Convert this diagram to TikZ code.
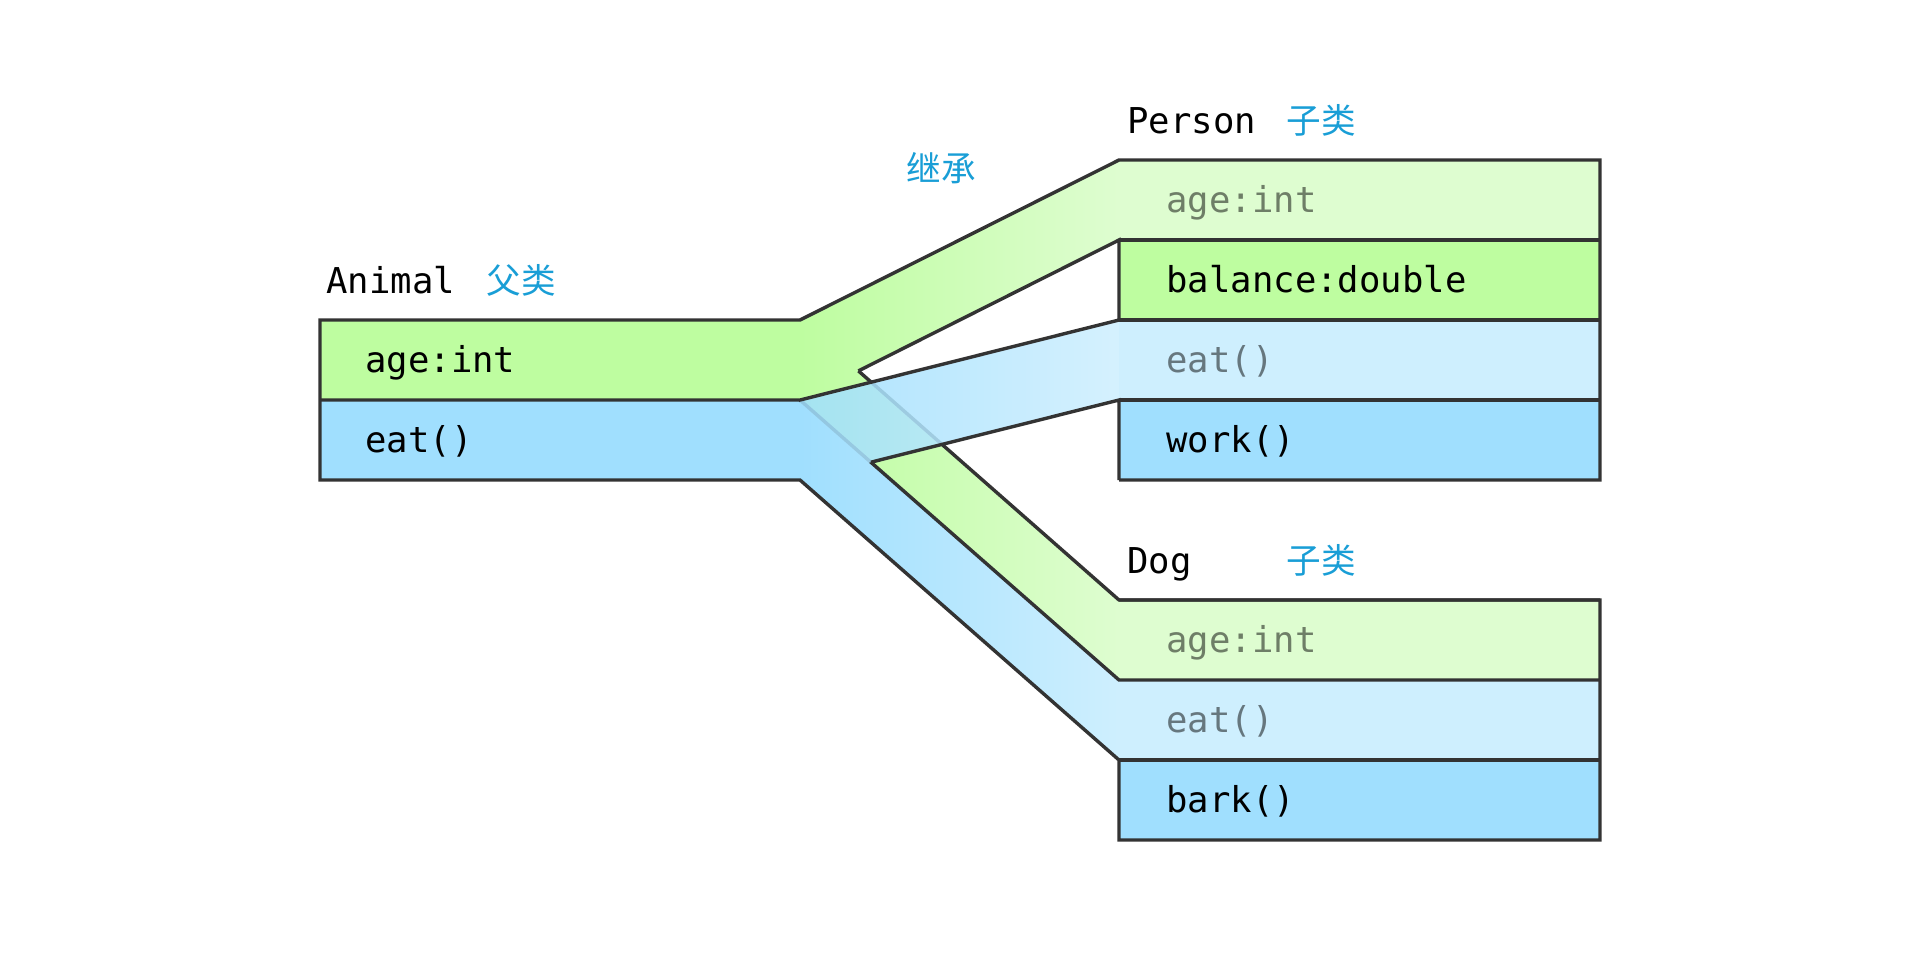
\documentclass[tikz,border=0pt]{standalone}
\usepackage{fontspec}
\setmonofont{DejaVu Sans Mono}
\newfontfamily\cjk{Noto Sans CJK SC}
\definecolor{greenD}{RGB}{190,253,160}
\definecolor{greenL}{RGB}{222,253,208}
\definecolor{blueD}{RGB}{160,223,254}
\definecolor{blueL}{RGB}{206,239,254}
\definecolor{lineC}{RGB}{51,51,51}
\definecolor{cjkC}{RGB}{25,158,214}
\tikzset{
  edge/.style={draw=lineC, line width=1.7pt, line join=miter},
  lbl/.style={anchor=base west, inner sep=0pt, font=\ttfamily\fontsize{17.8}{20}\selectfont},
  cjklbl/.style={anchor=base west, inner sep=0pt, text=cjkC, font=\cjk\fontsize{17.3}{20}\selectfont},
  faded/.style={text opacity=0.5},
  greenband/.style={left color=greenD, right color=greenL},
  blueband/.style={left color=blueD, right color=blueL}
}
\begin{document}
\begin{tikzpicture}[x=0.5pt,y=-0.5pt]
\fill[white] (0,0) rectangle (1920,960);
\useasboundingbox (0,0) rectangle (1920,960);
% row fills
\fill[greenD] (320,320) rectangle (800,400);
\fill[blueD] (320,400) rectangle (800,480);
\fill[greenL] (1119,160) rectangle (1600,240);
\fill[greenD] (1119,240) rectangle (1600,320);
\fill[blueL] (1119,320) rectangle (1600,400);
\fill[blueD] (1119,400) rectangle (1600,480);
\fill[greenL] (1119,600) rectangle (1600,680);
\fill[blueL] (1119,680) rectangle (1600,760);
\fill[blueD] (1119,760) rectangle (1600,840);
% bands to Dog
\shade[blueband] (800,400) -- (1119,680) -- (1119,760) -- (800,480) -- cycle;
\shade[greenband] (800,320) -- (1119,600) -- (1119,680) -- (800,400) -- cycle;
\draw[edge] (800,400) -- (1119,680) -- (1600,680);
\draw[edge] (858.4,370.9) -- (1119,600) -- (1600,600);
% band to Person (green)
\shade[greenband] (800,320) -- (1119,160) -- (1119,240) -- (800,400) -- cycle;
% band to Person (blue), translucent
\shade[blueband, fill opacity=0.86] (800,400) -- (1119,320) -- (1119,400) -- (800,480) -- cycle;
% outlines
\draw[edge] (858.4,370.9) -- (1119,240) -- (1119,320) -- (800,400) -- (320,400);
\draw[edge] (870.9,462.2) -- (1119,400) -- (1119,480);
\draw[edge] (1119,240) -- (1600,240);
\draw[edge] (1119,320) -- (1600,320);
\draw[edge] (1119,400) -- (1600,400);
\draw[edge] (1119,760) -- (1600,760);
\draw[edge] (1119,480) -- (1600,480) -- (1600,160) -- (1119,160) -- (800,320) -- (320,320)
  -- (320,480) -- (800,480) -- (1119,760) -- (1119,840) -- (1600,840) -- (1600,600) -- (1119,600);
% labels
\node[lbl] (animalT) at (326,293) {Animal};
\node[cjklbl] (animalC) at (486,293) {父类};
\node[cjklbl] (inherit) at (906,181) {继承};
\node[lbl] (personT) at (1127,133) {Person};
\node[cjklbl] (personC) at (1286,133) {子类};
\node[lbl] (dogT) at (1127,573) {Dog};
\node[cjklbl] (dogC) at (1286,573) {子类};
% row texts
\node[lbl] (aAge) at (365,372) {age:int};
\node[lbl] (aEat) at (365,452) {eat()};
\node[lbl, faded] (pAge) at (1166,212) {age:int};
\node[lbl] (pBal) at (1166,292) {balance:double};
\node[lbl, faded] (pEat) at (1166,372) {eat()};
\node[lbl] (pWork) at (1166,452) {work()};
\node[lbl, faded] (dAge) at (1166,652) {age:int};
\node[lbl, faded] (dEat) at (1166,732) {eat()};
\node[lbl] (dBark) at (1166,812) {bark()};
\end{tikzpicture}
\end{document}
